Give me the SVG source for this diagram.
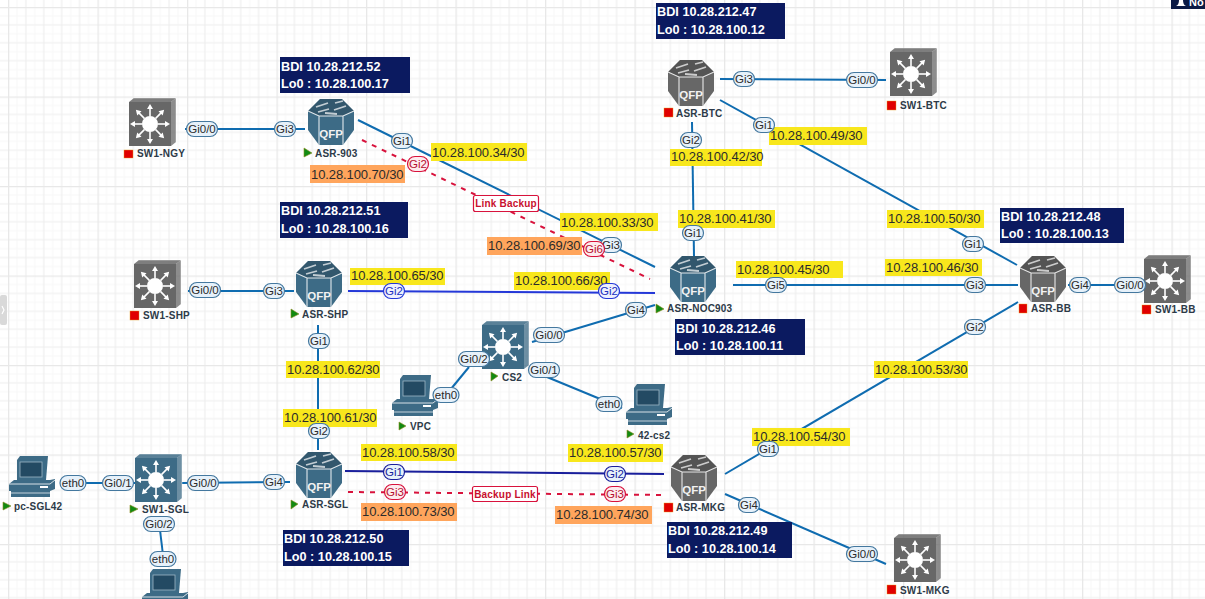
<svg xmlns="http://www.w3.org/2000/svg" width="1205" height="599" viewBox="0 0 1205 599">
<style>
text{font-family:"Liberation Sans",Arial,sans-serif}
.l{fill:none;stroke:#0f6cb0;stroke-width:2}
.b{fill:none;stroke:#2438d8;stroke-width:2}
.n{fill:none;stroke:#1a1f9c;stroke-width:2}
.r{fill:none;stroke:#d8123c;stroke-width:2;stroke-dasharray:5 6}
.p rect{fill:#e6f1fa;stroke:#44789f;stroke-width:1.2}
.p text{font-size:11.5px;fill:#2a2a2a;text-anchor:middle}
.p.red rect{fill:#fdebee;stroke:#d8123c}
.p.red text{fill:#b5102f}
.p.blu rect{fill:#eef0fd;stroke:#2438d8}
.p.blu text{fill:#2030c0}
.p.nav rect{stroke:#1a1f9c}
.p.nav text{fill:#1a1f9c}
.y rect{fill:#f8e71c}
.o rect{fill:#ffa55c}
.y text,.o text{font-size:13px;fill:#2b2b2b;letter-spacing:-.1px}
.info rect{fill:#0b1a60}
.info text{font-size:12.7px;font-weight:bold;fill:#fff}
.lbl{font-size:10px;font-weight:bold;fill:#2d3a48;letter-spacing:.2px}
.go{fill:#128a12;stroke:#8a8a20;stroke-width:.6}
.st{fill:#e00000;stroke:#e8a020;stroke-width:.4}
.blue{color:#3d6b86}
.gray{color:#676767}
.note rect{fill:#fff;stroke:#d8123c;stroke-width:1.2}
.note text{font-size:10px;font-weight:bold;fill:#c8102e;text-anchor:middle;letter-spacing:.2px}
.qfp{font-size:11.5px;font-weight:bold;fill:#f2f2f2;text-anchor:middle}
</style>
<defs>
<pattern id="grid" patternUnits="userSpaceOnUse" x="8" y="7" width="89.5" height="89.5">
<path d="M8.95 0V89.5M26.85 0V89.5M44.75 0V89.5M62.65 0V89.5M80.55 0V89.5M0 8.95H89.5M0 26.85H89.5M0 44.75H89.5M0 62.65H89.5M0 80.55H89.5" stroke="#f8f8f8" stroke-width="1" fill="none"/>
<path d="M17.9 0V89.5M35.8 0V89.5M53.7 0V89.5M71.6 0V89.5M0 17.9H89.5M0 35.8H89.5M0 53.7H89.5M0 71.6H89.5" stroke="#eeeeee" stroke-width="1.2" fill="none"/>
<path d="M0.5 0V89.5M0 0.5H89.5" stroke="#e8e8e8" stroke-width="1.6" fill="none"/>
</pattern>
<g id="router">
<path d="M-23 -11L-11 -23H11L23 -11V8L12 23H-12L-23 8Z" fill="currentColor"/>
<path d="M-23 -11L-11 -23H11L23 -11L12 -6H-12Z" fill="#000" opacity=".18"/>
<path d="M-15 -15L-3 -19M3 -12L15 -16M-13 -10L-2 -13M4 -19L12 -21M-6 -9L6 -8" stroke="#fff" stroke-width="1.8" opacity=".7" fill="none"/>
<path d="M-23 -11L-12 -6H12L23 -11M-12 -6V23M12 -6V23" stroke="#fff" stroke-width="1.1" opacity=".85" fill="none"/>
<text class="qfp" y="16">QFP</text>
</g>
<g id="arrow"><path d="M0 -8V-16" stroke="#fff" stroke-width="1.6"/><path d="M-3 -15L0 -20L3 -15Z" fill="#fff"/></g>
<g id="switch">
<path d="M-21 -22L-16 -26H26L21 -22Z" fill="currentColor" opacity=".85"/>
<path d="M21 -22L26 -26V18L21 22Z" fill="currentColor" opacity=".75"/>
<path d="M-16 -26H26V18" fill="none" stroke="#fff" stroke-width=".6" opacity=".7"/>
<rect x="-21" y="-22" width="42" height="44" fill="currentColor"/>
<circle r="8" fill="#fff"/>
<use href="#arrow"/><use href="#arrow" transform="rotate(45)"/><use href="#arrow" transform="rotate(90)"/><use href="#arrow" transform="rotate(135)"/><use href="#arrow" transform="rotate(180)"/><use href="#arrow" transform="rotate(225)"/><use href="#arrow" transform="rotate(270)"/><use href="#arrow" transform="rotate(315)"/>
</g>
<g id="pc">
<path d="M-15 -17L-12 -21H16L14 3H-15Z" fill="currentColor"/>
<rect x="-12" y="-15" width="22" height="15" fill="#234a63" stroke="#9db7c6" stroke-width=".8"/>
<path d="M-18 3H18L23 2V7L-23 12V7Z" fill="currentColor"/>
<path d="M-23 7H23V12L18 14H-23Z" fill="currentColor"/>
<path d="M-23 7H18L23 3" stroke="#fff" stroke-width=".8" fill="none"/>
<rect x="8" y="9" width="8" height="2" fill="#fff"/>
<path d="M-21 14H18V20H-21Z" fill="currentColor"/>
<path d="M-21 16H18" stroke="#fff" stroke-width=".7"/>
</g>
</defs>
<rect width="1205" height="599" fill="#fff"/>
<rect width="1205" height="599" fill="url(#grid)"/>
<rect id="scroll-handle" x="0" y="295" width="7" height="30" rx="2" fill="#d9d9d9"/>
<path d="M2 306L4 310L2 314" fill="none" stroke="#fff" stroke-width="1.2"/>
<g id="notify"><rect x="1171" y="0" width="34" height="9" fill="#0b1a45"/><path d="M1176 6Q1179 5 1179 0H1183Q1183 5 1186 6Z" fill="#fff"/><text x="1189" y="6" font-size="11" font-weight="bold" fill="#fff">No</text></g>

<g id="connectors">
<path class="l" d="M185 129H305"/>
<path class="l" d="M358 120L655 267"/>
<path class="r" d="M362 140L650 279"/>
<path class="b" d="M348 291L655 293"/>
<path class="l" d="M188 291H294"/>
<path class="l" d="M318 325V450"/>
<path class="l" d="M182 483L290 482"/>
<path class="l" d="M60 483H135"/>
<path class="l" d="M160 530L163 555"/>
<path class="n" d="M345 471L664 474"/>
<path class="r" d="M348 492L665 495"/>
<path class="l" d="M692 122L694 256"/>
<path class="l" d="M720 79L886 80"/>
<path class="l" d="M720 100L1017 265"/>
<path class="l" d="M733 285H1018"/>
<path class="l" d="M1068 285H1145"/>
<path class="l" d="M1018 302L725 474"/>
<path class="l" d="M725 494L886 564"/>
<path class="l" d="M655 305L532 342"/>
<path class="l" d="M469 367L446 395"/>
<path class="l" d="M530 370L622 408"/>
</g>

<g id="nets">
<g class="y"><rect x="431" y="143" width="96" height="18"/><text x="432" y="157">10.28.100.34/30</text></g>
<g class="o"><rect x="310" y="165" width="95" height="18"/><text x="311" y="179">10.28.100.70/30</text></g>
<g class="y"><rect x="560" y="213" width="98" height="18"/><text x="561" y="227">10.28.100.33/30</text></g>
<g class="o"><rect x="487" y="237" width="95" height="18"/><text x="488" y="250">10.28.100.69/30</text></g>
<g class="y"><rect x="514" y="272" width="96" height="18"/><text x="515" y="285">10.28.100.66/30</text></g>
<g class="y"><rect x="350" y="268" width="95" height="17"/><text x="351" y="280">10.28.100.65/30</text></g>
<g class="y"><rect x="678" y="210" width="97" height="18"/><text x="679" y="223">10.28.100.41/30</text></g>
<g class="y"><rect x="670" y="149" width="92" height="17"/><text x="671" y="161">10.28.100.42/30</text></g>
<g class="y"><rect x="769" y="127" width="98" height="18"/><text x="770" y="140">10.28.100.49/30</text></g>
<g class="y"><rect x="887" y="210" width="97" height="18"/><text x="888" y="223">10.28.100.50/30</text></g>
<g class="y"><rect x="736" y="261" width="107" height="17"/><text x="737" y="274">10.28.100.45/30</text></g>
<g class="y"><rect x="885" y="259" width="97" height="17"/><text x="886" y="272">10.28.100.46/30</text></g>
<g class="y"><rect x="874" y="361" width="94" height="17"/><text x="875" y="374">10.28.100.53/30</text></g>
<g class="y"><rect x="752" y="428" width="98" height="18"/><text x="753" y="441">10.28.100.54/30</text></g>
<g class="y"><rect x="286" y="361" width="94" height="17"/><text x="287" y="374">10.28.100.62/30</text></g>
<g class="y"><rect x="283" y="409" width="94" height="18"/><text x="284" y="422">10.28.100.61/30</text></g>
<g class="y"><rect x="361" y="444" width="96" height="17"/><text x="362" y="457">10.28.100.58/30</text></g>
<g class="y"><rect x="568" y="444" width="95" height="18"/><text x="569" y="457">10.28.100.57/30</text></g>
<g class="o"><rect x="361" y="503" width="96" height="18"/><text x="362" y="516">10.28.100.73/30</text></g>
<g class="o"><rect x="555" y="506" width="97" height="18"/><text x="556" y="519">10.28.100.74/30</text></g>
</g>

<g id="ASR-903"><use href="#router" class="blue" x="331" y="122"/><polygon class="go" points="304,148 312,153 304,157"/><text class="lbl" x="315" y="157">ASR-903</text></g>
<g id="ASR-BTC"><use href="#router" class="gray" x="691" y="83"/><rect class="st" x="664" y="108" width="9" height="9"/><text class="lbl" x="676" y="117">ASR-BTC</text></g>
<g id="ASR-SHP"><use href="#router" class="blue" x="319" y="284"/><polygon class="go" points="291,309 299,314 291,318"/><text class="lbl" x="302" y="318">ASR-SHP</text></g>
<g id="ASR-NOC903"><use href="#router" class="blue" x="693" y="279"/><polygon class="go" points="656,304 664,309 656,313"/><text class="lbl" x="667" y="312">ASR-NOC903</text></g>
<g id="ASR-SGL"><use href="#router" class="blue" x="319" y="475"/><polygon class="go" points="291,500 298,504 291,509"/><text class="lbl" x="302" y="508">ASR-SGL</text></g>
<g id="ASR-MKG"><use href="#router" class="gray" x="694" y="478"/><rect class="st" x="664" y="503" width="9" height="9"/><text class="lbl" x="676" y="511">ASR-MKG</text></g>
<g id="ASR-BB"><use href="#router" class="gray" x="1043" y="279"/><rect class="st" x="1019" y="304" width="8" height="9"/><text class="lbl" x="1031" y="312">ASR-BB</text></g>
<g id="SW1-NGY"><use href="#switch" class="gray" x="150" y="124"/><rect class="st" x="124" y="150" width="9" height="8"/><text class="lbl" x="137" y="157">SW1-NGY</text></g>
<g id="SW1-BTC"><use href="#switch" class="gray" x="911" y="74"/><rect class="st" x="887" y="101" width="9" height="9"/><text class="lbl" x="900" y="109">SW1-BTC</text></g>
<g id="SW1-SHP"><use href="#switch" class="gray" x="155" y="286"/><rect class="st" x="130" y="311" width="9" height="9"/><text class="lbl" x="143" y="319">SW1-SHP</text></g>
<g id="CS2"><use href="#switch" class="blue" x="503" y="347"/><polygon class="go" points="491,372 498,376 491,381"/><text class="lbl" x="502" y="381">CS2</text></g>
<g id="SW1-SGL"><use href="#switch" class="blue" x="156" y="480"/><polygon class="go" points="130,505 138,509 130,513"/><text class="lbl" x="142" y="513">SW1-SGL</text></g>
<g id="SW1-BB"><use href="#switch" class="gray" x="1165" y="281"/><rect class="st" x="1142" y="305" width="9" height="9"/><text class="lbl" x="1155" y="313">SW1-BB</text></g>
<g id="SW1-MKG"><use href="#switch" class="gray" x="915" y="560"/><rect class="st" x="887" y="585" width="9" height="9"/><text class="lbl" x="900" y="594">SW1-MKG</text></g>
<g id="pc-SGL42"><use href="#pc" class="blue" x="32" y="477"/><polygon class="go" points="3,502 11,506 3,510"/><text class="lbl" x="14" y="510">pc-SGL42</text></g>
<g id="pc-bottom"><use href="#pc" class="blue" x="165" y="590"/></g>
<g id="VPC"><use href="#pc" class="blue" x="415" y="396"/><polygon class="go" points="399,422 406,426 399,430"/><text class="lbl" x="410" y="430">VPC</text></g>
<g id="pc-42-cs2"><use href="#pc" class="blue" x="649" y="405"/><polygon class="go" points="627,430 634,434 627,438"/><text class="lbl" x="638" y="439">42-cs2</text></g>

<g id="interfaces">
<g class="p" transform="translate(202,129)"><rect x="-15.5" y="-7.5" width="31" height="15" rx="7.5"/><text y="4">Gi0/0</text></g>
<g class="p" transform="translate(285,129)"><rect x="-10.5" y="-7.5" width="21" height="15" rx="7.5"/><text y="4">Gi3</text></g>
<g class="p" transform="translate(402,141)"><rect x="-10.5" y="-7.5" width="21" height="15" rx="7.5"/><text y="4">Gi1</text></g>
<g class="p red" transform="translate(418,164)"><rect x="-10.5" y="-7.5" width="21" height="15" rx="7.5"/><text y="4">Gi2</text></g>
<g class="p" transform="translate(611,245)"><rect x="-10.5" y="-7.5" width="21" height="15" rx="7.5"/><text y="4">Gi3</text></g>
<g class="p red" transform="translate(594,249)"><rect x="-10.5" y="-7.5" width="21" height="15" rx="7.5"/><text y="4">Gi6</text></g>
<g class="p" transform="translate(205,290)"><rect x="-15.5" y="-7.5" width="31" height="15" rx="7.5"/><text y="4">Gi0/0</text></g>
<g class="p" transform="translate(274,291)"><rect x="-10.5" y="-7.5" width="21" height="15" rx="7.5"/><text y="4">Gi3</text></g>
<g class="p blu" transform="translate(394,291)"><rect x="-10.5" y="-7.5" width="21" height="15" rx="7.5"/><text y="4">Gi2</text></g>
<g class="p blu" transform="translate(609,291)"><rect x="-10.5" y="-7.5" width="21" height="15" rx="7.5"/><text y="4">Gi2</text></g>
<g class="p" transform="translate(319,341)"><rect x="-10.5" y="-7.5" width="21" height="15" rx="7.5"/><text y="4">Gi1</text></g>
<g class="p" transform="translate(319,431)"><rect x="-10.5" y="-7.5" width="21" height="15" rx="7.5"/><text y="4">Gi2</text></g>
<g class="p" transform="translate(203,483)"><rect x="-15.5" y="-7.5" width="31" height="15" rx="7.5"/><text y="4">Gi0/0</text></g>
<g class="p" transform="translate(274,482)"><rect x="-10.5" y="-7.5" width="21" height="15" rx="7.5"/><text y="4">Gi4</text></g>
<g class="p" transform="translate(73,483)"><rect x="-13" y="-7.5" width="26" height="15" rx="7.5"/><text y="4">eth0</text></g>
<g class="p" transform="translate(118,483)"><rect x="-15.5" y="-7.5" width="31" height="15" rx="7.5"/><text y="4">Gi0/1</text></g>
<g class="p" transform="translate(159,524)"><rect x="-15.5" y="-7.5" width="31" height="15" rx="7.5"/><text y="4">Gi0/2</text></g>
<g class="p" transform="translate(163,559)"><rect x="-13" y="-7.5" width="26" height="15" rx="7.5"/><text y="4">eth0</text></g>
<g class="p nav" transform="translate(394,472)"><rect x="-10.5" y="-7.5" width="21" height="15" rx="7.5"/><text y="4">Gi1</text></g>
<g class="p nav" transform="translate(615,474)"><rect x="-10.5" y="-7.5" width="21" height="15" rx="7.5"/><text y="4">Gi2</text></g>
<g class="p red" transform="translate(395,492)"><rect x="-10.5" y="-7.5" width="21" height="15" rx="7.5"/><text y="4">Gi3</text></g>
<g class="p red" transform="translate(615,494)"><rect x="-10.5" y="-7.5" width="21" height="15" rx="7.5"/><text y="4">Gi3</text></g>
<g class="p" transform="translate(693,233)"><rect x="-10.5" y="-7.5" width="21" height="15" rx="7.5"/><text y="4">Gi1</text></g>
<g class="p" transform="translate(691,140)"><rect x="-10.5" y="-7.5" width="21" height="15" rx="7.5"/><text y="4">Gi2</text></g>
<g class="p" transform="translate(744,79)"><rect x="-10.5" y="-7.5" width="21" height="15" rx="7.5"/><text y="4">Gi3</text></g>
<g class="p" transform="translate(862,80)"><rect x="-15.5" y="-7.5" width="31" height="15" rx="7.5"/><text y="4">Gi0/0</text></g>
<g class="p" transform="translate(764,125)"><rect x="-10.5" y="-7.5" width="21" height="15" rx="7.5"/><text y="4">Gi1</text></g>
<g class="p" transform="translate(973,244)"><rect x="-10.5" y="-7.5" width="21" height="15" rx="7.5"/><text y="4">Gi1</text></g>
<g class="p" transform="translate(776,285)"><rect x="-10.5" y="-7.5" width="21" height="15" rx="7.5"/><text y="4">Gi5</text></g>
<g class="p" transform="translate(975,285)"><rect x="-10.5" y="-7.5" width="21" height="15" rx="7.5"/><text y="4">Gi3</text></g>
<g class="p" transform="translate(1080,285)"><rect x="-10.5" y="-7.5" width="21" height="15" rx="7.5"/><text y="4">Gi4</text></g>
<g class="p" transform="translate(1130,285)"><rect x="-15.5" y="-7.5" width="31" height="15" rx="7.5"/><text y="4">Gi0/0</text></g>
<g class="p" transform="translate(975,327)"><rect x="-10.5" y="-7.5" width="21" height="15" rx="7.5"/><text y="4">Gi2</text></g>
<g class="p" transform="translate(768,449)"><rect x="-10.5" y="-7.5" width="21" height="15" rx="7.5"/><text y="4">Gi1</text></g>
<g class="p" transform="translate(749,505)"><rect x="-10.5" y="-7.5" width="21" height="15" rx="7.5"/><text y="4">Gi4</text></g>
<g class="p" transform="translate(862,554)"><rect x="-15.5" y="-7.5" width="31" height="15" rx="7.5"/><text y="4">Gi0/0</text></g>
<g class="p" transform="translate(636,310)"><rect x="-10.5" y="-7.5" width="21" height="15" rx="7.5"/><text y="4">Gi4</text></g>
<g class="p" transform="translate(549,335)"><rect x="-15.5" y="-7.5" width="31" height="15" rx="7.5"/><text y="4">Gi0/0</text></g>
<g class="p" transform="translate(474,359)"><rect x="-15.5" y="-7.5" width="31" height="15" rx="7.5"/><text y="4">Gi0/2</text></g>
<g class="p" transform="translate(446,395)"><rect x="-13" y="-7.5" width="26" height="15" rx="7.5"/><text y="4">eth0</text></g>
<g class="p" transform="translate(544,370)"><rect x="-15.5" y="-7.5" width="31" height="15" rx="7.5"/><text y="4">Gi0/1</text></g>
<g class="p" transform="translate(609,404)"><rect x="-13" y="-7.5" width="26" height="15" rx="7.5"/><text y="4">eth0</text></g>
<g class="note"><rect x="473.5" y="195.5" width="65" height="16" rx="2"/><text x="506" y="207">Link Backup</text></g>
<g class="note"><rect x="472.5" y="486.5" width="65" height="15" rx="2"/><text x="505" y="498">Backup Link</text></g>
</g>

<g id="info">
<g class="info"><rect x="280" y="57" width="130" height="36"/><text x="281" y="71">BDI 10.28.212.52</text><text x="281" y="88">Lo0 : 10.28.100.17</text></g>
<g class="info"><rect x="656" y="3" width="129" height="36"/><text x="657" y="16">BDI 10.28.212.47</text><text x="657" y="34">Lo0 : 10.28.100.12</text></g>
<g class="info"><rect x="280" y="202" width="128" height="36"/><text x="281" y="215">BDI 10.28.212.51</text><text x="281" y="233">Lo0 : 10.28.100.16</text></g>
<g class="info"><rect x="675" y="319" width="130" height="36"/><text x="676" y="333">BDI 10.28.212.46</text><text x="676" y="350">Lo0 : 10.28.100.11</text></g>
<g class="info"><rect x="1000" y="208" width="124" height="35"/><text x="1001" y="221">BDI 10.28.212.48</text><text x="1001" y="238">Lo0 : 10.28.100.13</text></g>
<g class="info"><rect x="283" y="530" width="126" height="36"/><text x="284" y="543">BDI 10.28.212.50</text><text x="284" y="561">Lo0 : 10.28.100.15</text></g>
<g class="info"><rect x="667" y="522" width="125" height="36"/><text x="668" y="535">BDI 10.28.212.49</text><text x="668" y="553">Lo0 : 10.28.100.14</text></g>
</g>
</svg>
